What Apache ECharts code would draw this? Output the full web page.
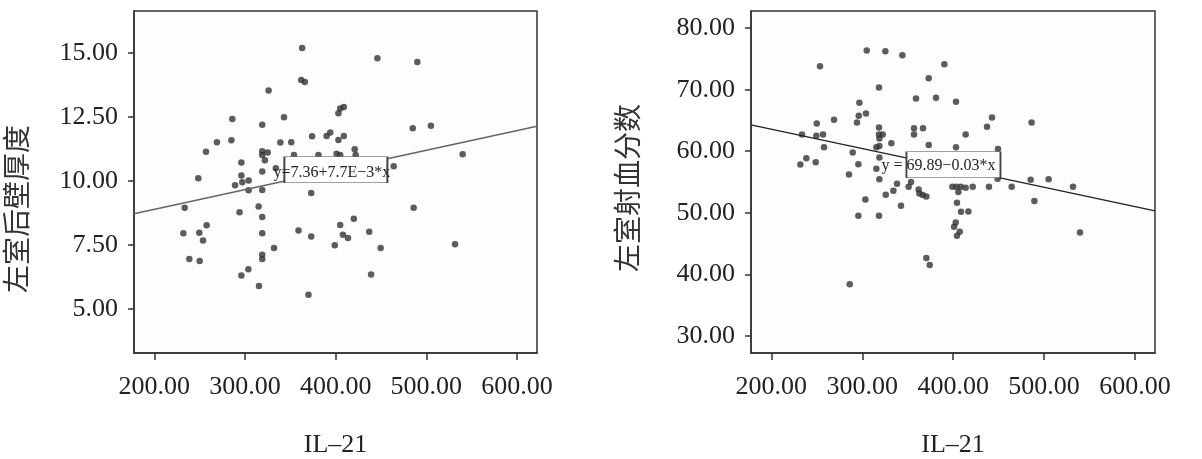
<!DOCTYPE html>
<html><head><meta charset="utf-8">
<script src="https://cdn.jsdelivr.net/npm/echarts@6/dist/echarts.min.js"></script>
<style>html,body{margin:0;padding:0;background:#fff}#c{width:1202px;height:459px}</style>
</head><body><div id="c"></div>
<script>
// ---- data ----
const xTicks = [200, 300, 400, 500, 600];
const leftYTicks = [5, 7.5, 10, 12.5, 15];
const rightYTicks = [30, 40, 50, 60, 70, 80];
const xTitle = 'IL\u201321';
const leftYTitle = '左室后壁厚度';
const rightYTitle = '左室射血分数';
const leftFit = { a: 7.36, b: 0.0077, label: 'y=7.36+7.7E\u22123*x' };
const rightFit = { a: 69.89, b: -0.0315, label: 'y = 69.89\u22120.03*x' };
const leftPoints = [
 [363,15.2],[446,14.8],[490,14.66],[362,13.95],[366,13.88],[326,13.54],[286,12.43],[343,12.5],[319,12.21],
 [403,12.66],[405,12.84],[409,12.9],[485,12.07],[505,12.17],[269,11.52],[285,11.6],[257,11.15],[319,11.17],
 [319,11.02],[325,11.12],[322,10.82],[339,11.51],[351,11.52],[374,11.76],[390,11.77],[394,11.9],[403,11.61],
 [409,11.77],[421,11.25],[354,11.02],[381,11.02],[401,11.07],[405,11.02],[422,11.02],[464,10.59],[540,11.05],
 [296,10.73],[296,10.22],[319,10.38],[334,10.51],[248.5,10.12],
 [289,9.84],[297,9.96],[304,10.03],[304,9.65],[319,9.66],[373,9.54],[233.5,8.96],[294,8.79],[315,9.01],
 [319,8.6],[232,7.97],[249.6,7.99],[257.7,8.28],[253.7,7.68],[238.6,6.96],[250,6.88],[319,7.97],[319,7.13],
 [319,6.96],[332,7.39],[296,6.32],[303.7,6.56],[315.4,5.91],[359,8.08],[373,7.84],[370,5.57],[399,7.5],
 [405,8.29],[408,7.91],[413.6,7.78],[420,8.53],[437,8.03],[449.6,7.39],[439,6.36],[486,8.96],[531.6,7.54]
];
const rightPoints = [
 [304.9,76.36],[325.4,76.25],[344.1,75.6],[390.3,74.13],[253.5,73.8],[373.1,71.85],[318.4,70.38],[296.8,67.88],
 [359.1,68.59],[381.1,68.7],[403.1,68.04],[304.1,66.14],[296.1,65.76],[268.9,65.11],[294.2,64.67],[249.9,64.51],
 [442.7,65.49],[437.2,63.97],[486.3,64.67],[318.4,63.86],[356.9,63.75],[366.8,63.75],[233.7,62.72],[249.5,62.5],
 [256.8,62.72],[318.4,62.72],[322.5,62.72],[318.8,62.07],[356.9,62.72],[413.7,62.72],[332,61.3],[257.9,60.65],
 [315.5,60.65],[318.8,60.87],[373.1,61.03],[403.1,60.65],[449.3,60.38],[289.5,59.78],[318.8,58.98],[238.5,58.87],
 [231.9,57.83],[248.8,58.22],[295.7,57.88],[315.5,57.17],[285.4,56.2],[485.2,55.35],[505,55.43],
 [318.8,55.43],[338.2,54.73],[353.6,55.0],[351,54.24],[362,53.8],[362.8,53.15],[366.5,52.88],[370.5,52.66],
 [334.2,53.59],[325.8,52.93],[303.4,52.17],[342.6,51.14],[295.7,49.51],[318.4,49.51],[399.1,54.24],[403.5,54.24],
 [408.3,54.24],[413.7,54.08],[421.5,54.24],[405.7,53.37],[404.2,51.63],[408.6,50.16],[416.7,50.22],[402.8,48.42],
 [401,47.72],[407.2,46.9],[404.2,46.25],[439.4,54.24],[448.9,55.54],[464.3,54.24],[489.3,51.9],[531.8,54.24],
 [539.5,46.79],[370.5,42.66],[374.2,41.52],[286.2,38.37]
];
const xRange = [177.6, 622];
const leftYRange = [3.29, 16.65];
const rightYRange = [27.2, 82.8];
const leftLabelAt = [400.2, 10.45];
const rightLabelAt = [400.3, 57.8];

// ---- chart ----
const serif = '"Liberation Serif","DejaVu Serif",serif';
const chart = echarts.init(document.getElementById('c'));
function xAxis(gi) {
  return {
    type: 'value', gridIndex: gi, min: xRange[0], max: xRange[1],
    axisLine: { show: true, lineStyle: { color: '#333', width: 1.5 } },
    axisTick: { show: true, length: 7, customValues: xTicks, lineStyle: { color: '#333', width: 1.5 } },
    axisLabel: { customValues: xTicks, formatter: v => v.toFixed(2), fontFamily: serif, fontSize: 26, color: '#222', margin: 21 },
    splitLine: { show: false },
    name: xTitle, nameLocation: 'middle', nameGap: 79,
    nameTextStyle: { fontFamily: serif, fontSize: 26, color: '#222' }
  };
}
function yAxis(gi, range, ticks, pad) {
  return {
    type: 'value', gridIndex: gi, min: range[0], max: range[1],
    axisLine: { show: true, lineStyle: { color: '#333', width: 1.5 } },
    axisTick: { show: true, length: 6, customValues: ticks, lineStyle: { color: '#333', width: 1.5 } },
    axisLabel: { customValues: ticks, formatter: v => v.toFixed(2), fontFamily: serif, fontSize: 26, color: '#222', margin: 16,
      padding: [pad, 0, 0, 0] },
    splitLine: { show: false }
  };
}
function fitLine(fit) {
  return xRange.map(x => [x, fit.a + fit.b * x]);
}
function eqMark(at, text, w, off) {
  return {
    silent: true, animation: false,
    data: [{
      coord: at, symbol: 'rect', symbolSize: [w, 26],
      itemStyle: { color: '#fff', borderColor: '#444', borderWidth: 1 },
      label: { show: true, position: 'inside', formatter: text, offset: off,
        fontFamily: serif, fontSize: 16, color: '#222' }
    }]
  };
}
chart.setOption({
  animation: false,
  backgroundColor: '#fff',
  grid: [
    { left: 134, top: 11, width: 403, height: 342, outerBoundsMode: 'none', containLabel: false,
      show: true, borderColor: '#333', borderWidth: 1.5, backgroundColor: '#fdfdfd' },
    { left: 751, top: 11, width: 404, height: 342, outerBoundsMode: 'none', containLabel: false,
      show: true, borderColor: '#333', borderWidth: 1.5, backgroundColor: '#fdfdfd' }
  ],
  xAxis: [xAxis(0), xAxis(1)],
  yAxis: [yAxis(0, leftYRange, leftYTicks, 5), yAxis(1, rightYRange, rightYTicks, 2)],
  series: [
    { type: 'scatter', xAxisIndex: 0, yAxisIndex: 0, data: leftPoints, symbolSize: 6.5, itemStyle: { color: '#333' } },
    { type: 'line', xAxisIndex: 0, yAxisIndex: 0, data: fitLine(leftFit), showSymbol: false, lineStyle: { color: '#666', width: 1.4 },
      markPoint: eqMark(leftLabelAt, leftFit.label, 103, [-4, 3]) },
    { type: 'scatter', xAxisIndex: 1, yAxisIndex: 1, data: rightPoints, symbolSize: 6.5, itemStyle: { color: '#333' } },
    { type: 'line', xAxisIndex: 1, yAxisIndex: 1, data: fitLine(rightFit), showSymbol: false, lineStyle: { color: '#222', width: 1.4 },
      markPoint: eqMark(rightLabelAt, rightFit.label, 94, [-15, 1]) }
  ],
  graphic: [
    { type: 'text', x: 16, y: 209, rotation: Math.PI / 2,
      style: { text: leftYTitle, font: '28px "Noto Sans CJK SC"', fill: '#333', align: 'center', verticalAlign: 'middle' } },
    { type: 'text', x: 627, y: 188, rotation: Math.PI / 2,
      style: { text: rightYTitle, font: '28px "Noto Sans CJK SC"', fill: '#333', align: 'center', verticalAlign: 'middle' } }
  ]
});
</script></body></html>
